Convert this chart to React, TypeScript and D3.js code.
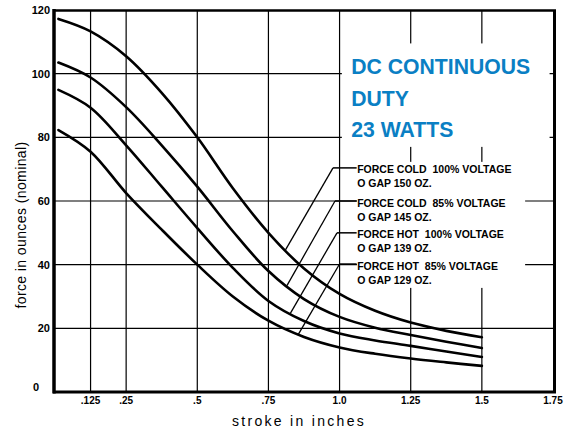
import React from 'react';
import * as d3 from 'd3';

// stroke positions (inches) where the curves were read
const strokeIn = [0.012, 0.125, 0.25, 0.375, 0.5, 0.625, 0.75, 0.875, 1.0, 1.125, 1.25, 1.375, 1.5];
// force in ounces for each curve
const forceCold100 = [117.2, 113.3, 105.5, 94, 80, 64, 50, 38.8, 30.8, 25.5, 21.8, 19.2, 17.2];
const forceCold85 = [103.5, 98.8, 89.5, 77.5, 64.5, 50.5, 38, 29.2, 23.6, 20.2, 17.9, 15.8, 13.8];
const forceHot100 = [94.9, 89.3, 77.5, 64.5, 51.5, 39, 28.6, 22.3, 18.4, 16.2, 14.5, 12.7, 11];
const forceHot85 = [82.3, 75.5, 62.5, 51, 40, 30, 22.4, 17.3, 14.0, 12.0, 10.5, 9.3, 8.2];

const seriesLabels = [
  'FORCE COLD  100% VOLTAGE',
  'FORCE COLD  85% VOLTAGE',
  'FORCE HOT  100% VOLTAGE',
  'FORCE HOT  85% VOLTAGE',
];
const gapLabels = ['O GAP 150 OZ.', 'O GAP 145 OZ.', 'O GAP 139 OZ.', 'O GAP 129 OZ.'];

// where each leader line touches its curve (stroke, inches)
const leaderStroke = [0.81, 0.815, 0.827, 0.855];
// where each leader starts (stroke) and the label row (force)
const leaderStartStroke = [0.977, 0.984, 0.991, 1.0];
const labelForce = [70.4, 60, 50, 40.2];

const xTicks = [0.125, 0.25, 0.5, 0.75, 1.0, 1.25, 1.5, 1.75];
const xTickLabels = ['.125', '.25', '.5', '.75', '1.0', '1.25', '1.5', '1.75'];
const yTicks = [0, 20, 40, 60, 80, 100, 120];
const yTickLabels = ['0', '20', '40', '60', '80', '100', '120'];
const gridX = [0.125, 0.25, 0.5, 0.75, 1.0, 1.25, 1.5];
const gridY = [20, 40, 60, 80, 100];
const titleLines = ['DC CONTINUOUS', 'DUTY', '23 WATTS'];
const titleForce = [100, 90, 80];

const W = 567;
const H = 434;

export default function App() {
  const x = d3.scaleLinear().domain([0, 1.75]).range([55, 553]);
  const y = d3.scaleLinear().domain([0, 120]).range([392, 10]);
  const series = [forceCold100, forceCold85, forceHot100, forceHot85];
  const line = d3
    .line<number>()
    .x((_, i) => x(strokeIn[i]))
    .y((d) => y(d))
    .curve(d3.curveCatmullRom.alpha(0.5));

  const font = "'Liberation Sans', Arial, Helvetica, sans-serif";

  return (
    <div style={{ position: 'absolute', left: 0, top: 0 }}>
      <svg width={W} height={H} viewBox={`0 0 ${W} ${H}`} style={{ display: 'block', background: '#fff' }}>
        <rect x={0} y={0} width={W} height={H} fill="#fff" />
        {/* grid */}
        {gridX.map((v) => (
          <line key={'gx' + v} x1={x(v)} x2={x(v)} y1={y(120)} y2={y(0)} stroke="#000" strokeWidth={1.2} />
        ))}
        {gridY.map((v) => (
          <line key={'gy' + v} x1={x(0)} x2={x(1.75)} y1={y(v)} y2={y(v)} stroke="#000" strokeWidth={1.2} />
        ))}
        {/* white panels behind text */}
        <rect x={x(1.008)} y={y(109.5)} width={x(1.738) - x(1.008)} height={y(77) - y(109.5)} fill="#fff" />
        <rect x={x(1.061)} y={y(72.3)} width={x(1.652) - x(1.061)} height={y(32.7) - y(72.3)} fill="#fff" />
        {/* frame */}
        <line x1={x(0) - 1} x2={x(0) - 1} y1={y(120) - 1} y2={y(0) + 1.5} stroke="#000" strokeWidth={3.5} />
        <line x1={x(0) - 2} x2={x(1.75) + 3} y1={y(0)} y2={y(0)} stroke="#000" strokeWidth={3} />
        <line x1={x(0) - 2} x2={x(1.75) + 3} y1={y(120) + 0.5} y2={y(120) + 0.5} stroke="#000" strokeWidth={2.5} />
        <line x1={x(1.75) + 1.5} x2={x(1.75) + 1.5} y1={y(120)} y2={y(0)} stroke="#000" strokeWidth={3} />
        {/* curves */}
        {series.map((s, i) => (
          <path key={'c' + i} d={line(s) || ''} fill="none" stroke="#000" strokeWidth={2.6} strokeLinecap="round" />
        ))}
        {/* leaders */}
        {series.map((s, i) => {
          const interp = d3.scaleLinear().domain(strokeIn).range(s);
          const ex = x(leaderStroke[i]);
          const ey = y(interp(leaderStroke[i]));
          const sx = x(leaderStartStroke[i]);
          const sy = y(labelForce[i]);
          return (
            <g key={'l' + i}>
              <line x1={ex} y1={ey} x2={sx} y2={sy} stroke="#000" strokeWidth={1.3} />
              <line x1={sx} y1={sy} x2={x(1.06)} y2={sy} stroke="#000" strokeWidth={1.5} />
              <text
                x={x(1.062)}
                y={sy + 5.5}
                fontFamily={font}
                fontWeight="bold"
                fontSize={10.5}
                fill="#000"
                style={{ whiteSpace: 'pre' }}
              >
                {seriesLabels[i]}
              </text>
              <text x={x(1.062)} y={sy + 19.5} fontFamily={font} fontWeight="bold" fontSize={10.5} fill="#000">
                {gapLabels[i]}
              </text>
            </g>
          );
        })}
        {/* blue title */}
        {titleLines.map((t, i) => (
          <text key={'t' + i} x={x(1.041)} y={y(titleForce[i])} fontFamily={font} fontWeight="bold" fontSize={21.2} fill="#0a7fc4">
            {t}
          </text>
        ))}
        {/* y tick labels */}
        {yTicks.map((v, i) => (
          <text
            key={'yt' + v}
            x={v === 0 ? x(0) - 16 : x(0) - 5}
            y={v === 0 ? y(v) - 1 : y(v) + 4}
            textAnchor="end"
            fontFamily={font}
            fontWeight="bold"
            fontSize={11}
            fill="#000"
          >
            {yTickLabels[i]}
          </text>
        ))}
        {/* x tick labels */}
        {xTicks.map((v, i) => (
          <text key={'xt' + v} x={x(v)} y={403.5} textAnchor="middle" fontFamily={font} fontWeight="bold" fontSize={10} fill="#000">
            {xTickLabels[i]}
          </text>
        ))}
        {/* axis titles */}
        <text x={299} y={426} textAnchor="middle" fontFamily={font} fontSize={14} letterSpacing={2.3} fill="#000">
          stroke in inches
        </text>
        <text
          transform={`translate(26,225) rotate(-90)`}
          textAnchor="middle"
          fontFamily={font}
          fontSize={14}
          letterSpacing={0.4}
          fill="#000"
        >
          force in ounces (nominal)
        </text>
      </svg>
    </div>
  );
}
